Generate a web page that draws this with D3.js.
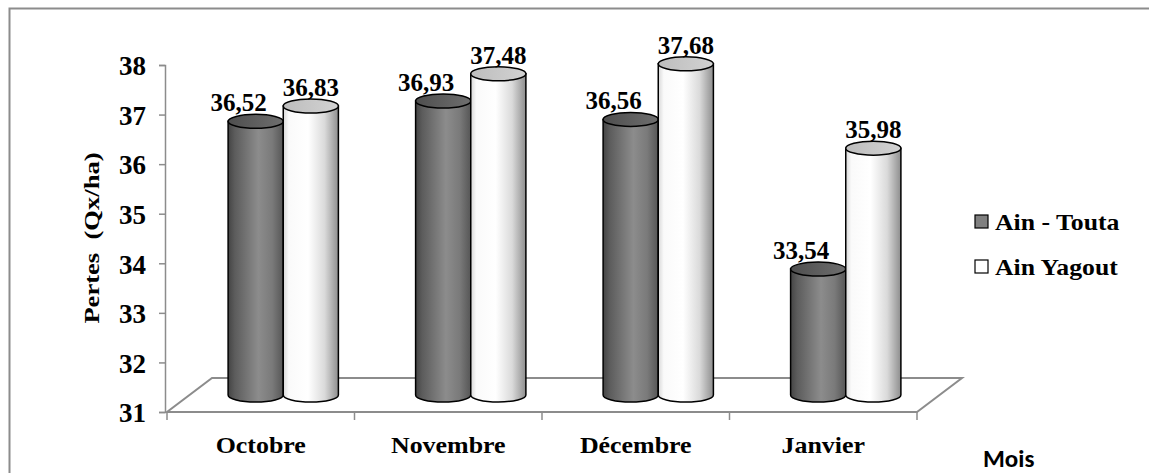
<!DOCTYPE html>
<html>
<head>
<meta charset="utf-8">
<script src="https://cdn.jsdelivr.net/npm/d3@7"></script>
<style>
  body { margin: 0; background: #fff; }
  svg { display: block; }
  text { font-family: "Liberation Serif", "Times New Roman", serif; font-weight: bold; fill: #000; }
</style>
</head>
<body>
<svg id="viz" width="1149" height="473"></svg>
<script>
// data
var months = ["Octobre", "Novembre", "Décembre", "Janvier"];
var seriesNames = ["Ain - Touta", "Ain Yagout"];
var ainTouta = [36.52, 36.93, 36.56, 33.54];
var ainYagout = [36.83, 37.48, 37.68, 35.98];
var yTicks = [31, 32, 33, 34, 35, 36, 37, 38];

var svg = d3.select("#viz");

// 3d floor depth
const depthX = 45, depthY = 34;
const axisColor = "#8c8c8c";

var frFormat = d3.formatLocale({decimal: ",", thousands: " ", grouping: [3], currency: ["", "€"]}).format(".2f");

var yScale = d3.scaleLinear().domain([31, 38]).range([412, 65]);
var x0 = d3.scaleBand().domain(months).range([167, 917]).padding(0);
var x1 = d3.scaleBand().domain(seriesNames).range([0, x0.bandwidth()]).paddingInner(0).paddingOuter(0.7);

var defs = svg.append("defs");

function gradient(id, stops) {
    var g = defs.append("linearGradient").attr("id", id)
        .attr("x1", "0%").attr("x2", "100%").attr("y1", "0%").attr("y2", "0%");
    stops.forEach(function (s) {
        g.append("stop").attr("offset", s[0]).attr("stop-color", s[1]);
    });
}
gradient("darkBody", [["0%", "#444"], ["12%", "#5c5c5c"], ["55%", "#8c8c8c"], ["80%", "#7a7a7a"], ["100%", "#565656"]]);
gradient("darkTop", [["0%", "#4e4e4e"], ["100%", "#6e6e6e"]]);
gradient("whiteBody", [["0%", "#d8d8d8"], ["10%", "#fafafa"], ["45%", "#ffffff"], ["75%", "#dadada"], ["100%", "#8e8e8e"]]);
gradient("whiteTop", [["0%", "#bdbdbd"], ["100%", "#d2d2d2"]]);

// outer frame
svg.append("rect")
    .attr("x", 9.5).attr("y", 8.5)
    .attr("width", 1160).attr("height", 500)
    .attr("fill", "none")
    .attr("stroke", axisColor)
    .attr("stroke-width", 2);

// floor
var yBase = yScale(31);
var xl = x0.range()[0], xr = x0.range()[1];
svg.append("path")
    .attr("d", "M" + xl + "," + yBase + " L" + xr + "," + yBase +
        " L" + (xr + depthX) + "," + (yBase - depthY) +
        " L" + (xl + depthX) + "," + (yBase - depthY) + " Z")
    .attr("fill", "#fff")
    .attr("stroke", axisColor)
    .attr("stroke-width", 2);

// x ticks on the front edge
var xTickPos = months.map(function (m) { return x0(m); }).concat([xr]);
svg.selectAll(".xtick")
    .data(xTickPos)
    .enter()
    .append("line")
    .attr("x1", function (d) { return d; })
    .attr("x2", function (d) { return d; })
    .attr("y1", yBase)
    .attr("y2", yBase + 8)
    .attr("stroke", axisColor)
    .attr("stroke-width", 1.5);

// y axis
var yAxisG = svg.append("g").attr("transform", "translate(" + (xl - 2) + ",0)");
yAxisG.call(d3.axisLeft(yScale).tickValues(yTicks).tickSize(6).tickPadding(13).tickFormat(d3.format("d")));
yAxisG.select(".domain").attr("stroke", axisColor).attr("stroke-width", 1.5);
yAxisG.selectAll(".tick line").attr("stroke", axisColor).attr("stroke-width", 1.5);
yAxisG.selectAll(".tick text")
    .attr("font-family", "Liberation Serif, Times New Roman, serif")
    .attr("font-size", 27)
    .attr("font-weight", "bold")
    .attr("fill", "#000")
    .attr("dy", "0.36em");

// cylinders
var bars = [];
months.forEach(function (m, i) {
    bars.push({month: m, series: seriesNames[0], value: ainTouta[i], body: "url(#darkBody)", top: "url(#darkTop)", kind: 0});
    bars.push({month: m, series: seriesNames[1], value: ainYagout[i], body: "url(#whiteBody)", top: "url(#whiteTop)", kind: 1});
});

const ry = 7;
var barsG = svg.append("g");
bars.forEach(function (d) {
    var left = x0(d.month) + x1(d.series) + depthX / 2;
    var right = left + x1.bandwidth();
    var rx = x1.bandwidth() / 2;
    var ty = yScale(d.value) - depthY / 2;
    var by = yBase - depthY / 2;
    var g = barsG.append("g");
    g.append("path")
        .attr("d", "M" + left + "," + ty + " L" + left + "," + by +
            " A" + rx + "," + ry + " 0 0 0 " + right + "," + by +
            " L" + right + "," + ty + " Z")
        .attr("fill", d.body)
        .attr("stroke", "#000")
        .attr("stroke-width", 1.5);
    g.append("ellipse")
        .attr("cx", left + rx).attr("cy", ty)
        .attr("rx", rx).attr("ry", ry)
        .attr("fill", d.top)
        .attr("stroke", "#000")
        .attr("stroke-width", 1.5);
    d.cx = left + rx;
    d.ty = ty;
});

// value labels
svg.selectAll(".vlabel")
    .data(bars)
    .enter()
    .append("text")
    .attr("class", "vlabel")
    .attr("x", function (d) { return d.cx + (d.kind === 0 ? -17 : 0); })
    .attr("y", function (d) { return d.ty - ry - 3; })
    .attr("text-anchor", "middle")
    .attr("font-size", 25)
    .text(function (d) { return frFormat(d.value); });

// category labels
svg.selectAll(".clabel")
    .data(months)
    .enter()
    .append("text")
    .attr("class", "clabel")
    .attr("transform", function (d) { return "translate(" + (x0(d) + x0.bandwidth() / 2) + ",453) scale(1.08,1)"; })
    .attr("text-anchor", "middle")
    .attr("font-size", 24)
    .text(function (d) { return d; });

// y axis title
svg.append("text")
    .attr("transform", "translate(99,238) rotate(-90) scale(1.33,1)")
    .attr("text-anchor", "middle")
    .attr("font-size", 20)
    .style("white-space", "pre")
    .text("Pertes  (Qx/ha)");

// x axis title (calibri-like)
svg.append("text")
    .attr("x", 983)
    .attr("y", 467)
    .style("font-family", "Carlito, Lato, sans-serif")
    .attr("font-size", 25)
    .text("Mois");

// legend
var legendFill = ["#808080", "#ffffff"];
var legend = svg.selectAll(".legend")
    .data(seriesNames)
    .enter()
    .append("g")
    .attr("class", "legend")
    .attr("transform", function (d, i) { return "translate(975," + (215 + i * 45) + ")"; });
legend.append("rect")
    .attr("width", 13).attr("height", 13)
    .attr("fill", function (d, i) { return legendFill[i]; })
    .attr("stroke", "#000")
    .attr("stroke-width", 1.2);
legend.append("text")
    .attr("transform", "translate(20,15) scale(1.12,1)")
    .attr("font-size", 23)
    .text(function (d) { return d; });
</script>
</body>
</html>
